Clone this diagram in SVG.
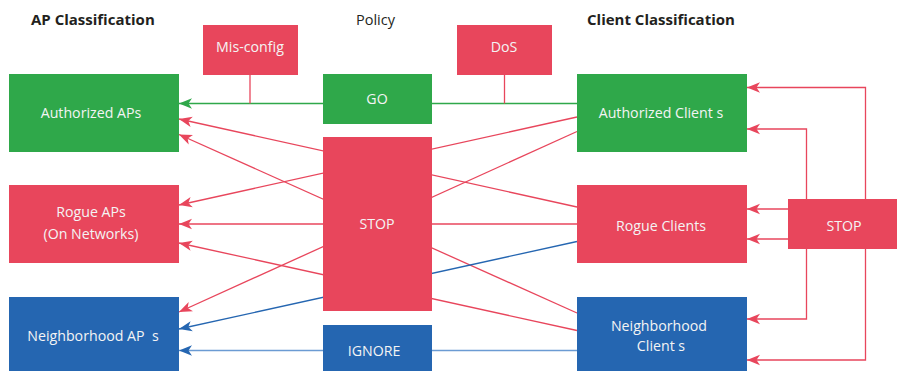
<svg xmlns="http://www.w3.org/2000/svg" width="901" height="371" viewBox="0 0 901 371">
  <defs>
    <style>
      .title { font-family: "Open Sans", "Liberation Sans", sans-serif; font-size: 14.5px; fill: #231f20; }
      .bold { font-weight: bold; font-size: 15px; }
      .lbl { font-family: "Open Sans", "Liberation Sans", sans-serif; font-size: 14.2px; fill: #f4f4f4; text-anchor: middle; }
      .green { fill: #2fa84a; }
      .red { fill: #e8465c; }
      .blue { fill: #2566b1; }
      .ln { fill: none; stroke-width: 1.3; }
      .lr { stroke: #e8465c; }
      .lg { stroke: #2fa84a; }
      .lb { stroke: #2566b1; }
      .lbl2 { stroke: #6b9bd3; }
    </style>
    <marker id="ah-red" viewBox="-13 -6 14 12" refX="0" refY="0" markerWidth="14" markerHeight="12" markerUnits="userSpaceOnUse" orient="auto">
      <path d="M0,0 L-13,-5.2 L-9.5,0 L-13,5.2 z" fill="#e8465c"/>
    </marker>
    <marker id="ah-green" viewBox="-13 -6 14 12" refX="0" refY="0" markerWidth="14" markerHeight="12" markerUnits="userSpaceOnUse" orient="auto">
      <path d="M0,0 L-13,-5.2 L-9.5,0 L-13,5.2 z" fill="#2fa84a"/>
    </marker>
    <marker id="ah-blue" viewBox="-13 -6 14 12" refX="0" refY="0" markerWidth="14" markerHeight="12" markerUnits="userSpaceOnUse" orient="auto">
      <path d="M0,0 L-13,-5.2 L-9.5,0 L-13,5.2 z" fill="#2566b1"/>
    </marker>
  </defs>

  <rect width="901" height="371" fill="#ffffff"/>

  <!-- column headings -->
  <text class="title bold" x="31" y="25">AP Classification</text>
  <text class="title" x="375.5" y="25" text-anchor="middle">Policy</text>
  <text class="title bold" x="587" y="25">Client Classification</text>

  <!-- connectors -->
  <g id="connectors">
    <!-- GO: authorized clients to authorized APs -->
    <path class="ln lg" d="M577,103.5 H179" marker-end="url(#ah-green)"/>
    <path class="ln lr" d="M250,75 V103.5"/>
    <path class="ln lr" d="M504.5,75 V103.5"/>

    <!-- STOP: client classes to AP classes -->
    <path class="ln lr" d="M577,207 L179,119" marker-end="url(#ah-red)"/>
    <path class="ln lr" d="M577,313 L179,134.5" marker-end="url(#ah-red)"/>
    <path class="ln lr" d="M577,117 L179,205" marker-end="url(#ah-red)"/>
    <path class="ln lr" d="M577,224 H179" marker-end="url(#ah-red)"/>
    <path class="ln lr" d="M577,330.5 L179,243" marker-end="url(#ah-red)"/>
    <path class="ln lr" d="M577,131.5 L179,312" marker-end="url(#ah-red)"/>
    <path class="ln lb" d="M577,241.5 L179,329" marker-end="url(#ah-blue)"/>

    <!-- IGNORE -->
    <path class="ln lbl2" d="M577,350.5 H179" marker-end="url(#ah-blue)"/>

    <!-- client-side STOP feedback -->
    <path class="ln lr" d="M788,209 H747" marker-end="url(#ah-red)"/>
    <path class="ln lr" d="M788,239 H747" marker-end="url(#ah-red)"/>
    <path class="ln lr" d="M806.5,199 V129 H747" marker-end="url(#ah-red)"/>
    <path class="ln lr" d="M865.5,199 V87.5 H747" marker-end="url(#ah-red)"/>
    <path class="ln lr" d="M806.5,249 V319 H747" marker-end="url(#ah-red)"/>
    <path class="ln lr" d="M865.5,249 V360 H747" marker-end="url(#ah-red)"/>
  </g>

  <!-- AP classification -->
  <g id="authorized-aps">
    <rect class="green" x="9" y="74" width="170" height="78"/>
    <text class="lbl" x="91" y="118">Authorized APs</text>
  </g>
  <g id="rogue-aps">
    <rect class="red" x="9" y="185" width="170" height="78"/>
    <text class="lbl" x="91" y="217">Rogue APs</text>
    <text class="lbl" x="91" y="239">(On Networks)</text>
  </g>
  <g id="neighborhood-aps">
    <rect class="blue" x="9" y="297" width="170" height="74"/>
    <text class="lbl" x="93" y="340.5" xml:space="preserve">Neighborhood AP  s</text>
  </g>

  <!-- policy -->
  <g id="misconfig">
    <rect class="red" x="203" y="25" width="95" height="50"/>
    <text class="lbl" x="250" y="52">Mis-config</text>
  </g>
  <g id="go">
    <rect class="green" x="323" y="74" width="109" height="50"/>
    <text class="lbl" x="377" y="104">GO</text>
  </g>
  <g id="stop">
    <rect class="red" x="323" y="137" width="109" height="174"/>
    <text class="lbl" x="377" y="228.5">STOP</text>
  </g>
  <g id="ignore">
    <rect class="blue" x="323" y="325" width="109" height="46"/>
    <text class="lbl" x="374" y="355.5">IGNORE</text>
  </g>
  <g id="dos">
    <rect class="red" x="457" y="25" width="95" height="50"/>
    <text class="lbl" x="504" y="52">DoS</text>
  </g>

  <!-- client classification -->
  <g id="authorized-clients">
    <rect class="green" x="577" y="74" width="170" height="78"/>
    <text class="lbl" x="661" y="118">Authorized Client s</text>
  </g>
  <g id="rogue-clients">
    <rect class="red" x="577" y="185" width="170" height="78"/>
    <text class="lbl" x="661" y="231">Rogue Clients</text>
  </g>
  <g id="neighborhood-clients">
    <rect class="blue" x="577" y="297" width="170" height="74"/>
    <text class="lbl" x="659" y="331">Neighborhood</text>
    <text class="lbl" x="661" y="350.5">Client s</text>
  </g>
  <g id="client-stop">
    <rect class="red" x="788" y="199" width="109" height="50"/>
    <text class="lbl" x="844" y="231">STOP</text>
  </g>
</svg>
